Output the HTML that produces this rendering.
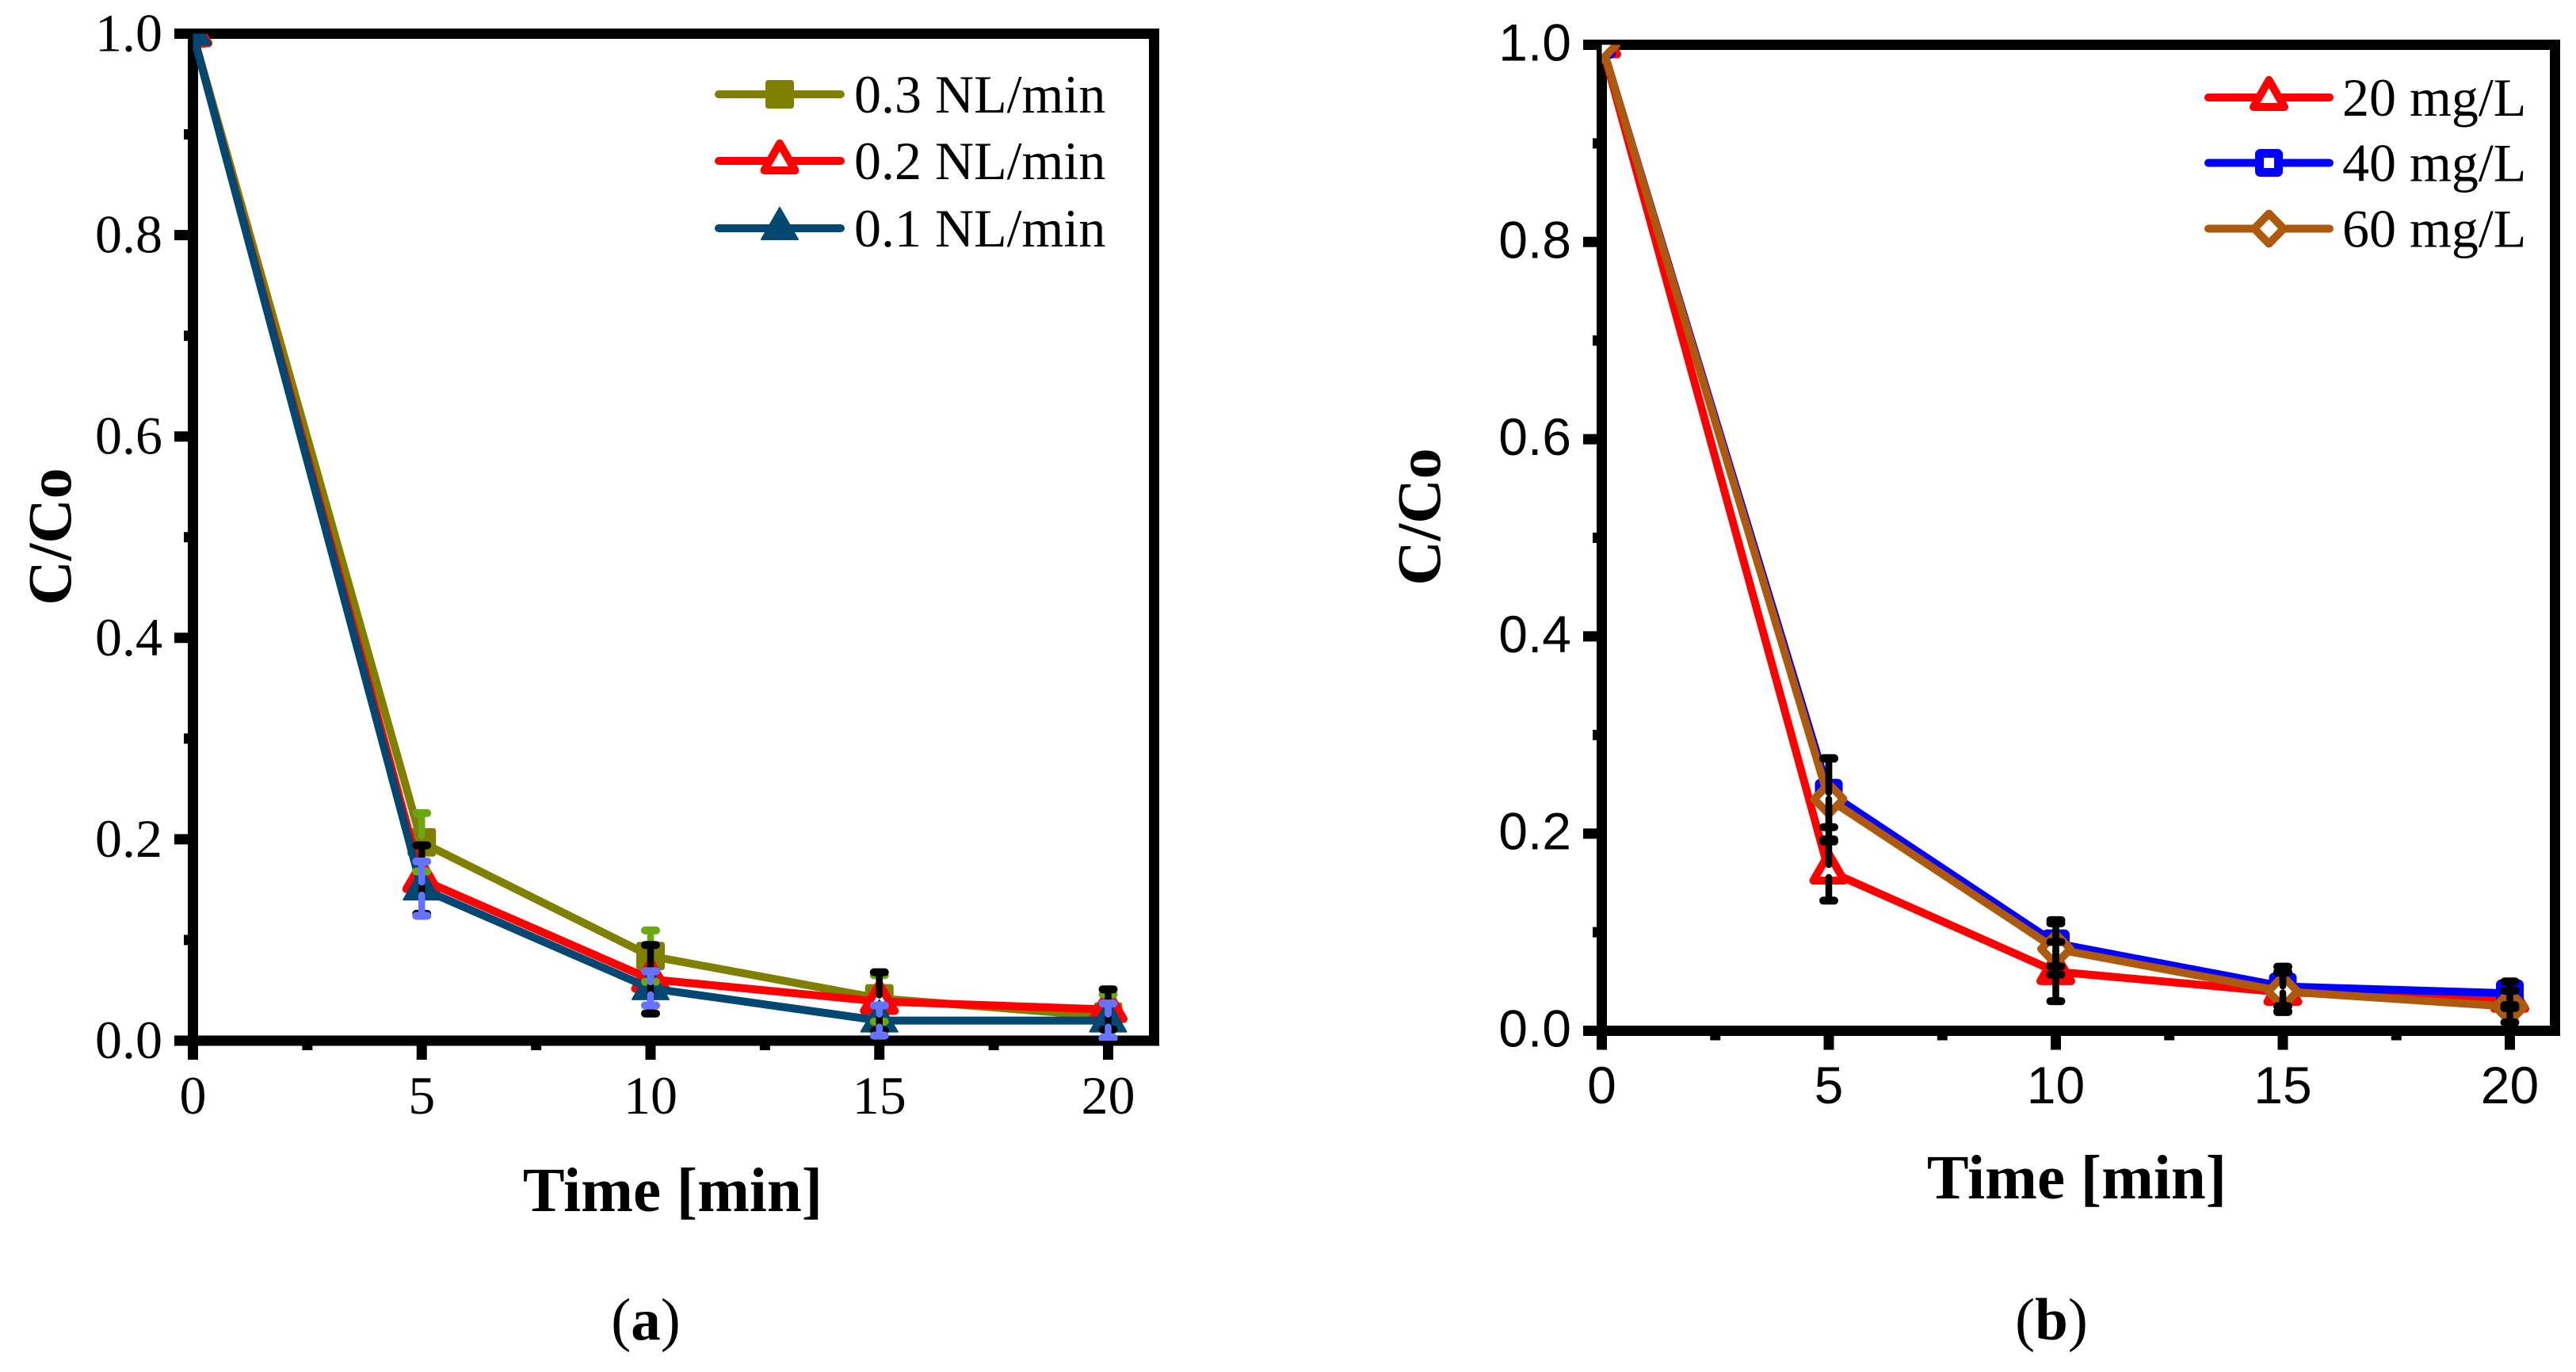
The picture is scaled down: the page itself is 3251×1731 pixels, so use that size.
<!DOCTYPE html>
<html lang="en">
<head>
<meta charset="utf-8">
<title>C/Co versus time</title>
<style>
html,body{margin:0;padding:0;background:#fff;width:3251px;height:1731px;overflow:hidden}
svg{display:block}
.serif{font-family:"Liberation Serif",serif}
.sans{font-family:"Liberation Sans",sans-serif}
</style>
</head>
<body>
<svg id="figure" xmlns="http://www.w3.org/2000/svg" width="3251" height="1731" viewBox="0 0 3251 1731"></svg>
<script>
// Shared axis data
const times = [0, 5, 10, 15, 20];
const xTickLabels = ['0', '5', '10', '15', '20'];
const xMinorTicks = [2.5, 7.5, 12.5, 17.5];
const yTicks = [0, 0.2, 0.4, 0.6, 0.8, 1.0];
const yTickLabels = ['0.0', '0.2', '0.4', '0.6', '0.8', '1.0'];
const yMinorTicks = [0.1, 0.3, 0.5, 0.7, 0.9];

// Panel (a) series
const airNames = ['0.3 NL/min', '0.2 NL/min', '0.1 NL/min'];
const air03 = [1.0, 0.197, 0.084, 0.042, 0.024];
const air02 = [1.0, 0.160, 0.061, 0.039, 0.031];
const air01 = [1.0, 0.151, 0.052, 0.020, 0.020];
const air03Err = [0, 0.029, 0.0255, 0.023, 0.022];
const air02Err = [0, 0.034, 0.034, 0.029, 0.020];
const air01Err = [0, 0.027, 0.017, 0.015, 0.017];

// Panel (b) series
const concNames = ['20 mg/L', '40 mg/L', '60 mg/L'];
const conc20 = [1.0, 0.162, 0.060, 0.039, 0.032];
const conc40 = [1.0, 0.2415, 0.0887, 0.045, 0.038];
const conc60 = [1.0, 0.235, 0.083, 0.040, 0.0245];
const conc20Err = [0, 0.030, 0.030, 0.020, 0.009];
const conc40Err = [0, 0.035, 0.0235, 0.020, 0.012];
const conc60Err = [0, 0.041, 0.026, 0.020, 0.016];

const NS = 'http://www.w3.org/2000/svg';
const svg = document.getElementById('figure');

function make(tag, attrs, parent) {
  const node = document.createElementNS(NS, tag);
  for (const key in attrs) node.setAttribute(key, attrs[key]);
  parent.appendChild(node);
  return node;
}

function drawMarker(kind, cx, cy, color, parent) {
  let m;
  if (kind === 'solid-square') {
    m = make('rect', {x: cx - 16.5, y: cy - 16.5, width: 33, height: 33, rx: 2, fill: color, stroke: color, 'stroke-width': 3, 'stroke-linejoin': 'round'}, parent);
  } else if (kind === 'open-triangle') {
    m = make('path', {d: 'M' + cx + ' ' + (cy - 22) + 'L' + (cx + 19.5) + ' ' + (cy + 12) + 'L' + (cx - 19.5) + ' ' + (cy + 12) + 'Z', fill: '#fff', stroke: color, 'stroke-width': 10, 'stroke-linejoin': 'round'}, parent);
  } else if (kind === 'solid-triangle') {
    m = make('path', {d: 'M' + cx + ' ' + (cy - 26) + 'L' + (cx + 23) + ' ' + (cy + 14) + 'L' + (cx - 23) + ' ' + (cy + 14) + 'Z', fill: color, stroke: color, 'stroke-width': 2, 'stroke-linejoin': 'round'}, parent);
  } else if (kind === 'open-square') {
    m = make('rect', {x: cx - 12, y: cy - 12, width: 24, height: 24, rx: 1, fill: '#fff', stroke: color, 'stroke-width': 11, 'stroke-linejoin': 'round'}, parent);
  } else {
    m = make('path', {d: 'M' + cx + ' ' + (cy - 19) + 'L' + (cx + 18.5) + ' ' + cy + 'L' + cx + ' ' + (cy + 19) + 'L' + (cx - 18.5) + ' ' + cy + 'Z', fill: '#fff', stroke: color, 'stroke-width': 10, 'stroke-linejoin': 'round'}, parent);
  }
  return m;
}

function drawPanel(p) {
  const xAt = t => p.left + (t - 0) * p.xUnit;
  const yAt = v => p.bottom - v * (p.bottom - p.top);
  const panel = make('g', {}, svg);
  
  

  // y ticks
  const yAxis = make('g', {}, panel);
  
  
  yTicks.forEach((v, i) => {
    const tick = make('line', {x1: p.left - 23.5, x2: p.left, y1: yAt(v), y2: yAt(v), stroke: '#000', 'stroke-width': 13}, yAxis);
    
    
    const label = make('text', {x: p.yLabelX, y: yAt(v) + p.yLabelDy, 'text-anchor': 'end', 'font-size': p.tickSize, fill: '#000', class: p.tickClass}, yAxis);
    label.textContent = yTickLabels[i];
    
    
  });
  yMinorTicks.forEach(v => {
    const tick = make('line', {x1: p.left - 11.5, x2: p.left, y1: yAt(v), y2: yAt(v), stroke: '#000', 'stroke-width': 13}, yAxis);
    
    
  });

  // x ticks
  const xAxis = make('g', {}, panel);
  
  
  times.forEach((t, i) => {
    const tick = make('line', {x1: xAt(t), x2: xAt(t), y1: p.bottom, y2: p.bottom + 24, stroke: '#000', 'stroke-width': 13}, xAxis);
    
    
    const label = make('text', {x: xAt(t), y: p.xLabelY, 'text-anchor': 'middle', 'font-size': p.tickSize, fill: '#000', class: p.tickClass}, xAxis);
    label.textContent = xTickLabels[i];
    
    
  });
  xMinorTicks.forEach(t => {
    const tick = make('line', {x1: xAt(t), x2: xAt(t), y1: p.bottom, y2: p.bottom + 12, stroke: '#000', 'stroke-width': 13}, xAxis);
    
    
  });

  // frame
  const frame = make('rect', {x: p.left, y: p.top, width: p.right - p.left, height: p.bottom - p.top, fill: 'none', stroke: '#000', 'stroke-width': 13}, panel);
  
  

  // clip
  const defs = make('defs', {}, panel);
  const clip = make('clipPath', {id: p.id + '-clip'}, defs);
  make('rect', {x: p.left, y: p.top, width: p.right - p.left, height: p.bottom - p.top}, clip);

  // series lines + markers
  const plot = make('g', {'clip-path': 'url(#' + p.id + '-clip)'}, panel);
  
  
  p.series.forEach(s => {
    const pts = s.values.map((v, i) => xAt(times[i]) + ',' + yAt(v)).join(' ');
    const line = make('polyline', {points: pts, fill: 'none', stroke: s.color, 'stroke-width': 10, 'stroke-linejoin': 'miter'}, plot);
    
    
    s.values.forEach((v, i) => {
      const mark = drawMarker(s.marker, xAt(times[i]), yAt(v), s.color, plot);
      
      
    });
  });

  // error bars on top of all markers, with a gap around the point
  p.series.forEach(s => {
    s.values.forEach((v, i) => {
      const e = s.errors[i];
      if (!e) return;
      const x = xAt(times[i]);
      const y = yAt(v);
      const up = yAt(v + e);
      const down = yAt(v - e);
      const bar = make('g', {stroke: s.errColor, 'stroke-width': 8.5, 'stroke-linecap': 'round', fill: 'none'}, plot);
      
      
      if (y - up > p.gap) make('line', {x1: x, x2: x, y1: up, y2: y - p.gap}, bar);
      if (down - y > p.gap) make('line', {x1: x, x2: x, y1: y + p.gap, y2: down}, bar);
      make('line', {x1: x - 7, x2: x + 7, y1: up, y2: up, 'stroke-width': 10}, bar);
      make('line', {x1: x - 7, x2: x + 7, y1: down, y2: down, 'stroke-width': 10}, bar);
    });
  });

  // legend
  const legend = make('g', {}, panel);
  
  
  p.series.forEach((s, i) => {
    const ly = p.legend.ys[i];
    const entry = make('g', {}, legend);
    
    
    const swatch = make('line', {x1: p.legend.x1, x2: p.legend.x2, y1: ly, y2: ly, stroke: s.color, 'stroke-width': 10, 'stroke-linecap': 'round'}, entry);
    
    
    const mark = drawMarker(s.marker, p.legend.mx, ly, s.color, entry);
    
    
    const text = make('text', {x: p.legend.tx, y: ly + p.legend.dy, 'font-size': p.legend.size, fill: '#000', class: 'serif'}, entry);
    text.textContent = s.name;
    
    
  });

  // titles
  const xTitle = make('text', {x: p.xTitleX, y: p.xTitleY, 'text-anchor': 'middle', 'font-size': 79, 'font-weight': 'bold', fill: '#000', class: 'serif'}, panel);
  xTitle.textContent = 'Time [min]';
  
  
  const yTitle = make('text', {transform: 'translate(' + p.yTitleX + ' ' + p.yTitleY + ') rotate(-90)', 'text-anchor': 'middle', 'font-size': 78, 'font-weight': 'bold', fill: '#000', class: 'serif'}, panel);
  yTitle.textContent = 'C/Co';
  
  

  // caption
  const caption = make('text', {x: p.capX, y: 1690, 'text-anchor': 'middle', 'font-size': 75, fill: '#000', class: 'serif'}, panel);
  
  
  const open = make('tspan', {}, caption);
  open.textContent = '(';
  const letter = make('tspan', {'font-weight': 'bold'}, caption);
  letter.textContent = p.capLetter;
  const close = make('tspan', {}, caption);
  close.textContent = ')';
}

drawPanel({
  id: 'panel-a', left: 243.5, right: 1456.5, top: 42.5, bottom: 1313, xUnit: 57.75,
  tickClass: 'serif', tickSize: 68, yLabelX: 205, yLabelDy: 22, xLabelY: 1405, gap: 8,
  xTitleX: 849, xTitleY: 1528, yTitleX: 89, yTitleY: 677, capX: 815, capLetter: 'a',
  legend: {x1: 907, x2: 1061, mx: 984, tx: 1078, ys: [119, 203, 288], dy: 23, size: 68},
  series: [
    {name: airNames[0], slug: 'air-0-3', values: air03, errors: air03Err, color: '#808000', errColor: '#6ba713', marker: 'solid-square'},
    {name: airNames[1], slug: 'air-0-2', values: air02, errors: air02Err, color: '#ff0000', errColor: '#000000', marker: 'open-triangle'},
    {name: airNames[2], slug: 'air-0-1', values: air01, errors: air01Err, color: '#004871', errColor: '#6673ff', marker: 'solid-triangle'}
  ]
});

drawPanel({
  id: 'panel-b', left: 2021.5, right: 3224.5, top: 56.5, bottom: 1300.5, xUnit: 57.3,
  tickClass: 'sans', tickSize: 66, yLabelX: 1983, yLabelDy: 20, xLabelY: 1392, gap: 8,
  xTitleX: 2621, xTitleY: 1512, yTitleX: 1817, yTitleY: 652, capX: 2589, capLetter: 'b',
  legend: {x1: 2787, x2: 2940, mx: 2863.5, tx: 2956, ys: [123, 205.5, 288.5], dy: 23, size: 68},
  series: [
    {name: concNames[0], slug: 'conc-20', values: conc20, errors: conc20Err, color: '#ff0000', errColor: '#000000', marker: 'open-triangle'},
    {name: concNames[1], slug: 'conc-40', values: conc40, errors: conc40Err, color: '#0000ff', errColor: '#000000', marker: 'open-square'},
    {name: concNames[2], slug: 'conc-60', values: conc60, errors: conc60Err, color: '#ae5a0e', errColor: '#000000', marker: 'open-diamond'}
  ]
});
</script>
</body>
</html>
